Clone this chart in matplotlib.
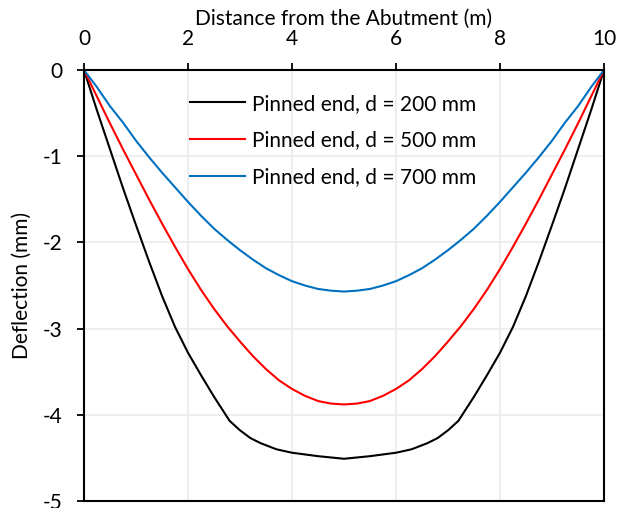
import matplotlib
matplotlib.use("Agg")
import matplotlib.pyplot as plt

plt.rcParams['font.family'] = ['Lato', 'DejaVu Sans']
plt.rcParams['axes.unicode_minus'] = False

# datos
x_200 = [0, 0.25, 0.5, 0.75, 1.0, 1.25, 1.5, 1.75, 2.0, 2.25, 2.5, 2.8, 3.0, 3.2, 3.4, 3.7, 4.0, 4.5, 5.0,
         5.5, 6.0, 6.3, 6.6, 6.8, 7.0, 7.2, 7.5, 7.75, 8.0, 8.25, 8.5, 8.75, 9.0, 9.25, 9.5, 9.75, 10]
y_200 = [0, -0.47, -0.92, -1.37, -1.80, -2.22, -2.62, -2.98, -3.28, -3.54, -3.79, -4.07, -4.18, -4.27, -4.33, -4.40, -4.44, -4.48, -4.51,
         -4.48, -4.44, -4.40, -4.33, -4.27, -4.18, -4.07, -3.79, -3.54, -3.28, -2.98, -2.62, -2.22, -1.80, -1.37, -0.92, -0.47, 0]

x_500 = [0, 0.25, 0.5, 0.75, 1, 1.25, 1.5, 1.75, 2, 2.25, 2.5, 2.75, 3, 3.25, 3.5, 3.75, 4, 4.25, 4.5, 4.75, 5,
         5.25, 5.5, 5.75, 6, 6.25, 6.5, 6.75, 7, 7.25, 7.5, 7.75, 8, 8.25, 8.5, 8.75, 9, 9.25, 9.5, 9.75, 10]
y_500 = [0, -0.31, -0.62, -0.92, -1.21, -1.50, -1.78, -2.05, -2.31, -2.55, -2.77, -2.97, -3.15, -3.32, -3.47, -3.60, -3.70, -3.78, -3.84, -3.87, -3.88,
         -3.87, -3.84, -3.78, -3.70, -3.60, -3.47, -3.32, -3.15, -2.97, -2.77, -2.55, -2.31, -2.05, -1.78, -1.50, -1.21, -0.92, -0.62, -0.31, 0]

x_700 = x_500
y_700 = [0, -0.20, -0.42, -0.61, -0.82, -1.01, -1.19, -1.36, -1.53, -1.69, -1.84, -1.97, -2.09, -2.20, -2.30, -2.38, -2.45, -2.50, -2.54, -2.56, -2.57,
         -2.56, -2.54, -2.50, -2.45, -2.38, -2.30, -2.20, -2.09, -1.97, -1.84, -1.69, -1.53, -1.36, -1.19, -1.01, -0.82, -0.61, -0.42, -0.20, 0]

etiquetas = ['Pinned end, d = 200 mm', 'Pinned end, d = 500 mm', 'Pinned end, d = 700 mm']

fig = plt.figure(figsize=(6.3, 5.08), dpi=100)
ax = fig.add_axes([84 / 630, 1 - 501 / 508, 520 / 630, 431 / 508])

ax.plot(x_200, y_200, color='black', linewidth=1.5, label=etiquetas[0])
ax.plot(x_500, y_500, color='#FF0000', linewidth=1.5, label=etiquetas[1])
ax.plot(x_700, y_700, color='#0070C0', linewidth=1.5, label=etiquetas[2])

ax.set_xlim(0, 10)
ax.set_ylim(-5, 0)
ax.set_xticks(range(0, 11, 2))
ax.set_yticks(range(-5, 1, 1))

# eje x arriba
ax.xaxis.tick_top()
ax.xaxis.set_label_position('top')
ax.set_xlabel('Distance from the Abutment (m)', fontsize=15, labelpad=3)
ax.set_ylabel('Deflection (mm)', fontsize=15, labelpad=8)

ax.tick_params(axis='both', labelsize=15, length=4.8, width=1.3, direction='out', color='black', pad=10.5)
ax.grid(True, color='#ebebeb', linewidth=1.2)
ax.set_axisbelow(True)
for s in ax.spines.values():
    s.set_linewidth(1.5)
    s.set_color('black')

ax.legend(loc='upper left', bbox_to_anchor=(0.204, 0.945), frameon=False, fontsize=15,
          borderpad=0, borderaxespad=0, handlelength=2.65, handletextpad=0.34,
          labelspacing=0.81)

fig.savefig('out.png', dpi=100)
